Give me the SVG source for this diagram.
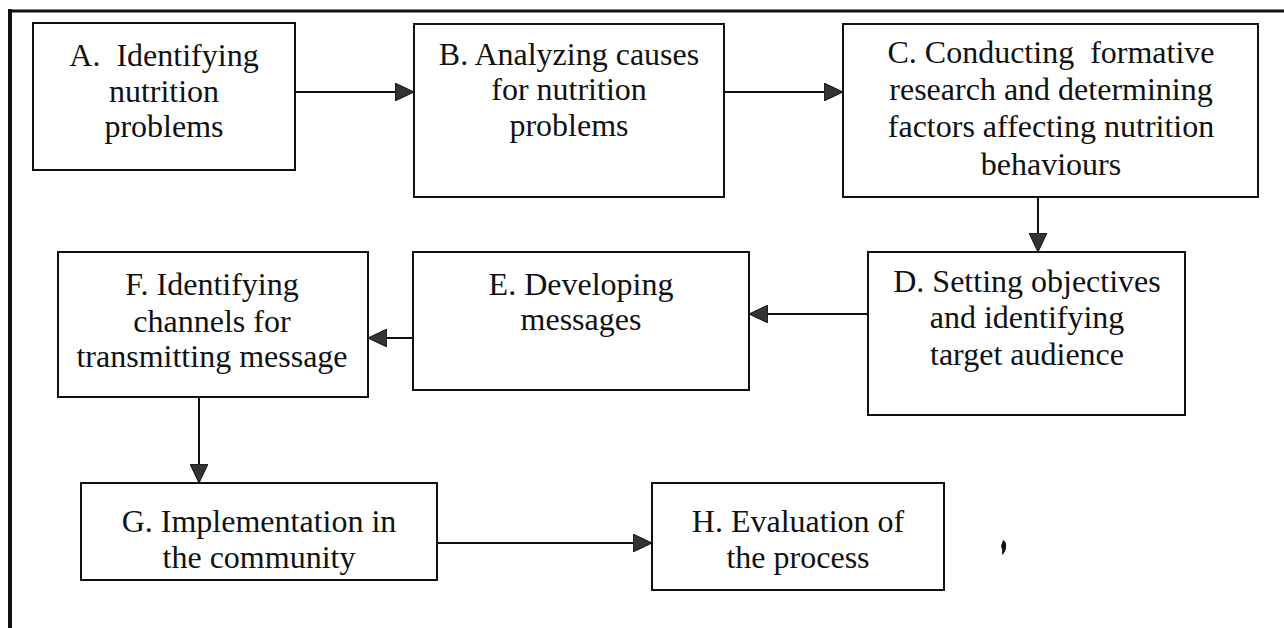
<svg xmlns="http://www.w3.org/2000/svg" width="1284" height="628" viewBox="0 0 1284 628">
  <style>
    .box { fill: #ffffff; stroke: #111111; stroke-width: 2; }
    .lbl { font-family: "Liberation Serif", "Times New Roman", serif; font-size: 32px; fill: #111111; text-anchor: middle; }
    .conn { stroke: #111111; stroke-width: 2; fill: none; marker-end: url(#head); }
    .frame { stroke: #111111; fill: none; }
  </style>
  <defs>
    <marker id="head" markerUnits="userSpaceOnUse" markerWidth="20" markerHeight="18" refX="19" refY="9" orient="auto">
      <path d="M0,0 L19,9 L0,18 Z" fill="#333333" stroke="#111111" stroke-width="1"/>
    </marker>
  </defs>

  <rect width="1284" height="628" fill="#ffffff"/>

  <!-- outer page frame: top and left rules -->
  <line class="frame" x1="8" y1="11" x2="1284" y2="11" stroke-width="3"/>
  <line class="frame" x1="10" y1="9" x2="10" y2="628" stroke-width="4"/>

  <g id="connectors">
    <line class="conn" x1="295" y1="92" x2="414" y2="92"/>
    <line class="conn" x1="724" y1="92" x2="843" y2="92"/>
    <line class="conn" x1="1038" y1="197" x2="1038" y2="252"/>
    <line class="conn" x1="868" y1="314" x2="749" y2="314"/>
    <line class="conn" x1="413" y1="338" x2="368" y2="338"/>
    <line class="conn" x1="199" y1="397" x2="199" y2="483"/>
    <line class="conn" x1="437" y1="543" x2="652" y2="543"/>
  </g>

  <g id="nodeA">
    <rect class="box" x="33" y="23" width="262" height="147"/>
    <text class="lbl" x="164" y="66" xml:space="preserve">A.  Identifying</text>
    <text class="lbl" x="164" y="102">nutrition</text>
    <text class="lbl" x="164" y="137">problems</text>
  </g>

  <g id="nodeB">
    <rect class="box" x="414" y="24" width="310" height="173"/>
    <text class="lbl" x="569" y="65">B. Analyzing causes</text>
    <text class="lbl" x="569" y="100">for nutrition</text>
    <text class="lbl" x="569" y="136">problems</text>
  </g>

  <g id="nodeC">
    <rect class="box" x="843" y="24" width="415" height="173"/>
    <text class="lbl" x="1051" y="63" xml:space="preserve">C. Conducting  formative</text>
    <text class="lbl" x="1051" y="100">research and determining</text>
    <text class="lbl" x="1051" y="137">factors affecting nutrition</text>
    <text class="lbl" x="1051" y="175">behaviours</text>
  </g>

  <g id="nodeD">
    <rect class="box" x="868" y="252" width="317" height="163"/>
    <text class="lbl" x="1027" y="292">D. Setting objectives</text>
    <text class="lbl" x="1027" y="328">and identifying</text>
    <text class="lbl" x="1027" y="365">target audience</text>
  </g>

  <g id="nodeE">
    <rect class="box" x="413" y="252" width="336" height="138"/>
    <text class="lbl" x="581" y="295">E. Developing</text>
    <text class="lbl" x="581" y="330">messages</text>
  </g>

  <g id="nodeF">
    <rect class="box" x="58" y="252" width="310" height="145"/>
    <text class="lbl" x="212" y="295">F. Identifying</text>
    <text class="lbl" x="212" y="332">channels for</text>
    <text class="lbl" x="212" y="367">transmitting message</text>
  </g>

  <g id="nodeG">
    <rect class="box" x="81" y="483" width="356" height="97"/>
    <text class="lbl" x="259" y="532">G. Implementation in</text>
    <text class="lbl" x="259" y="568">the community</text>
  </g>

  <g id="nodeH">
    <rect class="box" x="652" y="483" width="292" height="107"/>
    <text class="lbl" x="798" y="532">H. Evaluation of</text>
    <text class="lbl" x="798" y="568">the process</text>
  </g>

  <!-- small ink speck right of box H -->
  <path d="M1003,540 q4,2 3,8 q-1,5 -4,7 q1,-5 -1,-9 z" fill="#111111"/>
</svg>
